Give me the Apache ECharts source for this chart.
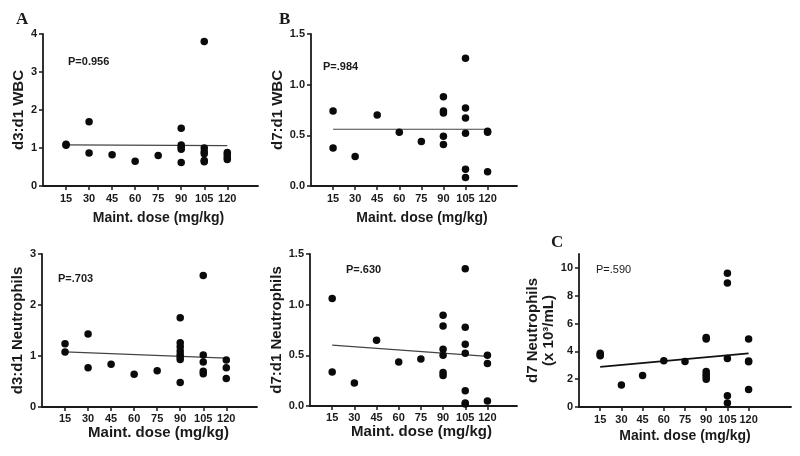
<!DOCTYPE html>
<html>
<head>
<meta charset="utf-8">
<script src="https://cdn.jsdelivr.net/npm/echarts@6/dist/echarts.min.js"></script>
<style>
html,body{margin:0;padding:0;background:#fff;}
#chart{width:800px;height:456px;}
</style>
</head>
<body>
<div id="chart"></div>
<script>
// Tick labels / categories
const doseTicks = [15, 30, 45, 60, 75, 90, 105, 120];
const fitEnds = [15, 120];

// Panel A: d3:d1 WBC  [dose, value]
const wbcD3 = [[15,1.1],[15,1.07],[30,1.69],[30,0.87],[45,0.82],[60,0.65],[75,0.8],
  [90,1.52],[90,1.08],[90,1.02],[90,0.97],[90,0.62],
  [105,3.8],[105,1.0],[105,0.9],[105,0.85],[105,0.67],[105,0.64],
  [120,0.88],[120,0.82],[120,0.75],[120,0.7]];
const wbcD3Fit = [1.08, 1.06];

// Panel B: d7:d1 WBC
const wbcD7 = [[15,0.74],[15,0.375],[30,0.29],[45,0.7],[60,0.53],[75,0.44],
  [90,0.88],[90,0.74],[90,0.72],[90,0.49],[90,0.41],
  [105,1.26],[105,0.77],[105,0.67],[105,0.52],[105,0.165],[105,0.085],
  [120,0.54],[120,0.53],[120,0.14]];
const wbcD7Fit = [0.56, 0.56];

// Panel D: d3:d1 Neutrophils
const neuD3 = [[15,1.24],[15,1.08],[30,1.43],[30,0.77],[45,0.84],[60,0.64],[75,0.71],
  [90,1.75],[90,1.26],[90,1.18],[90,1.1],[90,1.03],[90,0.98],[90,0.93],[90,0.48],
  [105,2.58],[105,1.02],[105,0.88],[105,0.7],[105,0.65],
  [120,0.92],[120,0.77],[120,0.56]];
const neuD3Fit = [1.08, 0.96];

// Panel E: d7:d1 Neutrophils
const neuD7 = [[15,1.06],[15,0.335],[30,0.227],[45,0.65],[60,0.434],[75,0.464],
  [90,0.895],[90,0.79],[90,0.56],[90,0.5],[90,0.33],[90,0.3],
  [105,1.355],[105,0.776],[105,0.61],[105,0.52],[105,0.15],[105,0.03],[105,0.02],
  [120,0.5],[120,0.42],[120,0.05]];
const neuD7Fit = [0.6, 0.49];

// Panel C: d7 Neutrophils (x 10^3/mL)
const neuAbs = [[15,3.86],[15,3.75],[15,3.69],[30,1.59],[45,2.27],[60,3.33],[75,3.28],
  [90,4.99],[90,4.89],[90,2.55],[90,2.35],[90,2.2],[90,2.0],
  [105,9.61],[105,8.92],[105,3.49],[105,0.8],[105,0.29],
  [120,4.89],[120,3.3],[120,3.25],[120,1.25]];
const neuAbsFit = [2.89, 3.86];

const yTicksA = [0,1,2,3,4];
const yTicksB = [0,0.5,1.0,1.5];
const yTicksD = [0,1,2,3];
const yTicksC = [0,2,4,6,8,10];

const FONT = "'Liberation Sans', Arial, Helvetica, sans-serif";
const SERIF = "'Liberation Serif', 'Times New Roman', serif";
const INK = '#1a1a1a';

const panels = [
  {grid:{left:43,top:34,width:215,height:152}, xmax:140, ymax:4, yint:1, yTicks:yTicksA, dec:0,
   yname:'d3:d1 WBC', ygap:16, xnameGap:25, xnameSize:14, xshift:16, lmargin:7,
   data:wbcD3, fit:wbcD3Fit, fitColor:'#444', fitW:1.2},
  {grid:{left:311,top:34,width:206,height:152}, xmax:140, ymax:1.5, yint:0.5, yTicks:yTicksB, dec:1,
   yname:'d7:d1 WBC', ygap:15, xnameGap:25, xnameSize:14, xshift:16, lmargin:7,
   data:wbcD7, fit:wbcD7Fit, fitColor:'#444', fitW:1.2},
  {grid:{left:42,top:254,width:215,height:153}, xmax:140, ymax:3, yint:1, yTicks:yTicksD, dec:0,
   yname:'d3:d1 Neutrophils', ygap:16, xnameGap:17, xnameSize:15, xshift:18, lmargin:6,
   data:neuD3, fit:neuD3Fit, fitColor:'#444', fitW:1.2},
  {grid:{left:310,top:254,width:207,height:152}, xmax:140, ymax:1.5, yint:0.5, yTicks:yTicksB, dec:1,
   yname:'d7:d1 Neutrophils', ygap:15, xnameGap:17, xnameSize:15, xshift:16, lmargin:6,
   data:neuD7, fit:neuD7Fit, fitColor:'#444', fitW:1.2},
  {grid:{left:579,top:254,width:212,height:153}, xmax:150, ymax:11, yint:2, yTicks:yTicksC, dec:0,
   yname:'d7 Neutrophils\n(x 10³/mL)', ygap:22, xnameGap:22, xnameSize:14, xshift:0, lmargin:7,
   data:neuAbs, fit:neuAbsFit, fitColor:'#111', fitW:1.8}
];

const grids = [], xAxes = [], yAxes = [], series = [];
panels.forEach((p, i) => {
  grids.push(Object.assign({outerBoundsMode:'none', containLabel:false}, p.grid));
  xAxes.push({
    gridIndex:i, type:'value', min:0, max:p.xmax,
    axisLine:{show:true, onZero:false, lineStyle:{color:INK, width:1.8}},
    axisTick:{show:true, inside:false, length:4, customValues:doseTicks, lineStyle:{color:INK, width:1.5}},
    axisLabel:{show:true, customValues:doseTicks, margin:p.lmargin, color:INK, fontFamily:FONT, fontWeight:'bold', fontSize:11},
    splitLine:{show:false},
    name:'Maint. dose (mg/kg)', nameLocation:'middle', nameGap:p.xnameGap,
    nameTextStyle:{color:INK, fontFamily:FONT, fontWeight:'bold', fontSize:p.xnameSize, padding:[0,0,0,p.xshift]}
  });
  yAxes.push({
    gridIndex:i, type:'value', min:0, max:p.ymax, interval:p.yint,
    axisLine:{show:true, onZero:false, lineStyle:{color:INK, width:1.8}},
    axisTick:{show:true, inside:false, length:4, customValues:p.yTicks, lineStyle:{color:INK, width:1.5}},
    axisLabel:{show:true, customValues:p.yTicks, margin:6, color:INK, fontFamily:FONT, fontWeight:'bold', fontSize:11,
      formatter:(v)=>Number(v).toFixed(p.dec)},
    splitLine:{show:false},
    name:p.yname, nameLocation:'middle', nameGap:p.ygap, nameRotate:90,
    nameTextStyle:{color:INK, fontFamily:FONT, fontWeight:'bold', fontSize:15, lineHeight:16}
  });
  series.push({
    type:'scatter', xAxisIndex:i, yAxisIndex:i, data:p.data,
    symbol:'circle', symbolSize:7.5, itemStyle:{color:'#0a0a0a', opacity:1}, silent:true, z:3
  });
  series.push({
    type:'line', xAxisIndex:i, yAxisIndex:i,
    data:[[fitEnds[0], p.fit[0]],[fitEnds[1], p.fit[1]]],
    showSymbol:false, symbol:'none', lineStyle:{color:p.fitColor, width:p.fitW}, silent:true, z:2
  });
});

const textEls = [
  {x:68, y:56, text:'P=0.956', weight:'bold', size:11},
  {x:323, y:61, text:'P=.984', weight:'bold', size:11},
  {x:58, y:273, text:'P=.703', weight:'bold', size:11},
  {x:346, y:264, text:'P=.630', weight:'bold', size:11},
  {x:596, y:264, text:'P=.590', weight:'normal', size:11}
].map(t => ({type:'text', left:t.x, top:t.y, style:{text:t.text, fill:INK, font:`${t.weight} ${t.size}px ${FONT}`}}));

const letterEls = [
  {x:16, y:11, text:'A'}, {x:279, y:11, text:'B'}, {x:551, y:234, text:'C'}
].map(t => ({type:'text', left:t.x, top:t.y, style:{text:t.text, fill:INK, font:`bold 17px ${SERIF}`}}));

const chart = echarts.init(document.getElementById('chart'), null, {renderer:'canvas'});
chart.setOption({
  backgroundColor:'#ffffff',
  animation:false,
  grid:grids, xAxis:xAxes, yAxis:yAxes, series:series,
  graphic:textEls.concat(letterEls)
});
</script>
</body>
</html>
